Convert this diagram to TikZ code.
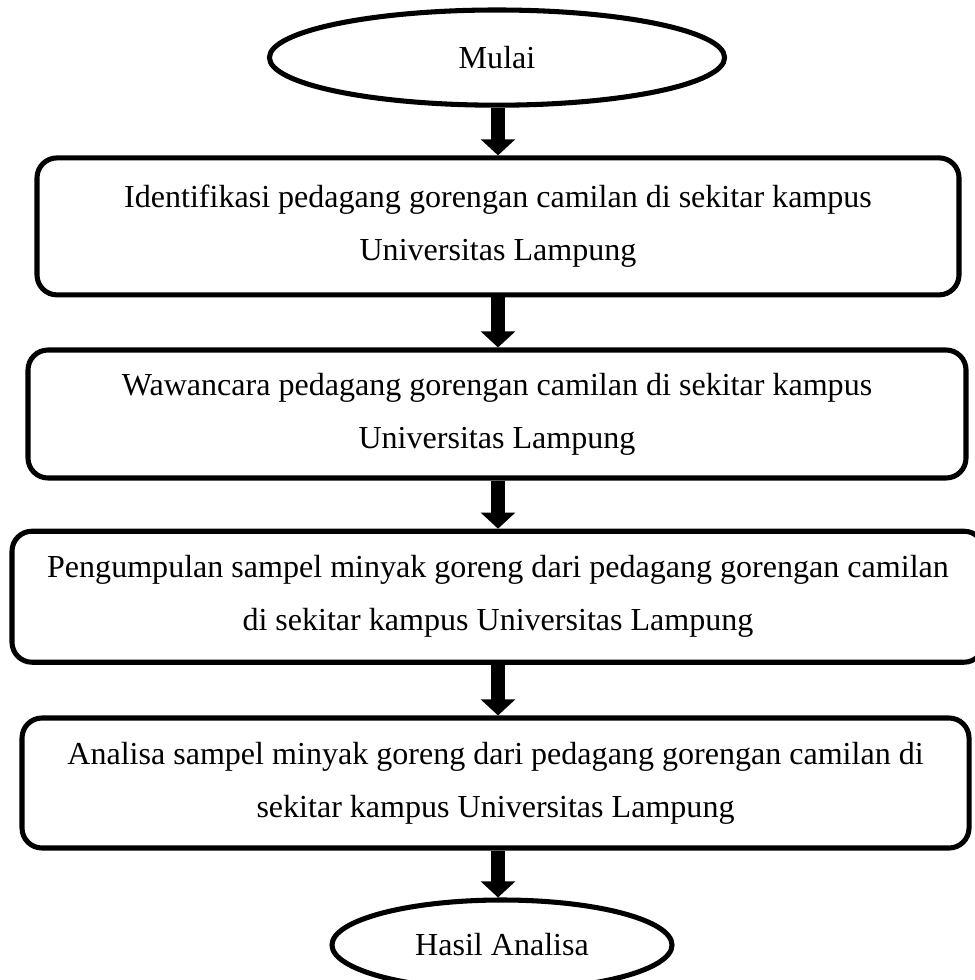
\documentclass[tikz,border=0pt]{standalone}
\usepackage{fontspec}
\setmainfont{Liberation Serif}
\usepackage{tikz}
\usetikzlibrary{positioning,arrows.meta,shapes.geometric}

\begin{document}
\begin{tikzpicture}[
      every node/.style={font=\fontsize{11.4}{18.8}\selectfont},
      TM/.style={draw, ellipse, line width=1.8pt, inner sep=0pt, text=black},
      PB/.style={draw, rounded corners=0.25cm, line width=1.8pt,
          inner sep=0pt, align=center, text=black},
      ar/.style={-{Triangle[width=0.42cm,length=0.2cm]}, line width=5.3pt},
    ]
    \useasboundingbox (0,0) rectangle (12.175,-12.25);

    % START
    \node[TM, minimum width=5.69cm, minimum height=1.19cm] (mulai) at (6.2125,-0.72) {Mulai};

    % PROCESS
    \node[PB, minimum width=11.525cm, minimum height=1.7125cm] (p1) at (6.225,-2.83)
    {Identifikasi pedagang gorengan camilan di sekitar kampus\\Universitas Lampung};
    \node[PB, minimum width=11.725cm, minimum height=1.6cm] (p2) at (6.2125,-5.175)
    {Wawancara pedagang gorengan camilan di sekitar kampus\\Universitas Lampung};
    \node[PB, minimum width=12.15cm, minimum height=1.6375cm] (p3) at (6.225,-7.459)
    {Pengumpulan sampel minyak goreng dari pedagang gorengan camilan\\di sekitar kampus Universitas Lampung};
    \node[PB, minimum width=11.8375cm, minimum height=1.625cm] (p4) at (6.194,-9.7875)
    {Analisa sampel minyak goreng dari pedagang gorengan camilan di\\sekitar kampus Universitas Lampung};

    % END
    \node[TM, minimum width=4.25cm, minimum height=1.125cm] (hasil) at (6.275,-11.8125) {Hasil Analisa};

    % Arrows
    \foreach \a/\b in {mulai/p1,p1/p2,p2/p3,p3/p4,p4/hasil}
    \draw[ar] (\a.south -| p1.center) -- (\b.north -| p1.center);
  \end{tikzpicture}
\end{document}
